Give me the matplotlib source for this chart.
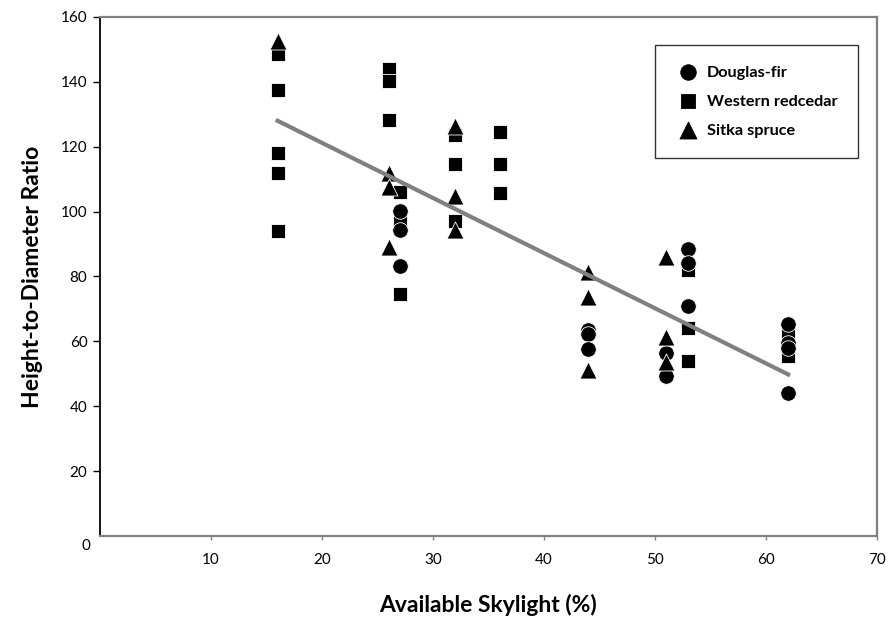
import matplotlib
matplotlib.use('Agg')
import matplotlib.pyplot as plt
import numpy as np

plt.rcParams['font.family'] = ['Lato', 'DejaVu Sans']

# Douglas-fir (circles)
df_x = [27, 27, 27, 44, 44, 44, 51, 51, 53, 53, 53, 62, 62, 62, 62]
df_y = [100.2, 94.3, 83.2, 63.5, 62.3, 57.6, 56.4, 49.3, 88.5, 84.2, 70.9, 65.5, 59.5, 58.0, 44.0]

# Western redcedar (squares)
wr_x = [16, 16, 16, 16, 16, 26, 26, 26, 27, 27, 27, 32, 32, 32, 36, 36, 36, 53, 53, 53, 62, 62]
wr_y = [148.5, 137.5, 118.1, 111.9, 94.0, 144.0, 140.3, 128.2, 106.0, 96.8, 74.6,
        123.6, 114.7, 97.1, 124.5, 114.7, 105.7, 82.0, 64.1, 53.9, 63.0, 55.5]

# Sitka spruce (triangles)
ss_x = [16, 26, 26, 26, 32, 32, 32, 44, 44, 44, 51, 51, 51]
ss_y = [152.5, 111.9, 107.6, 89.1, 126.4, 104.8, 94.3, 81.4, 73.7, 51.2, 86.0, 61.3, 53.6]

# pooled linear fit
fit_slope = -1.70
fit_intercept = 155.2

x_ticks = [10, 20, 30, 40, 50, 60, 70]
y_ticks = [20, 40, 60, 80, 100, 120, 140, 160]

fig = plt.figure(figsize=(8.96, 6.22), dpi=100)
ax = fig.add_axes([0.1116, 0.1383, 0.8672, 0.8344])

h_wr = ax.scatter(wr_x, wr_y, marker='s', s=95, c='black', edgecolors='white',
                  linewidths=0.6, zorder=3, label='Western redcedar')
h_df = ax.scatter(df_x, df_y, marker='o', s=125, c='black', edgecolors='white',
                  linewidths=0.6, zorder=4, label='Douglas-fir')
h_ss = ax.scatter(ss_x, ss_y, marker='^', s=150, c='black', edgecolors='white',
                  linewidths=0.6, zorder=5, label='Sitka spruce')

all_x = np.array(df_x + wr_x + ss_x)
xs = np.array([all_x.min(), all_x.max()])
ax.plot(xs, fit_intercept + fit_slope * xs, color='#808080', lw=3, zorder=6)

ax.set_xlim(0, 70)
ax.set_ylim(0, 160)
ax.set_xticks(x_ticks)
ax.set_yticks(y_ticks)
ax.tick_params(axis='y', direction='out', length=5, width=1, color='black',
               pad=4, labelsize=11)
ax.tick_params(axis='x', direction='out', length=3, width=1, color='#808080',
               pad=9, labelsize=11)
ax.text(-0.013, -0.02, '0', transform=ax.transAxes, ha='right', va='center', fontsize=11)

ax.spines['left'].set_color('black')
ax.spines['left'].set_linewidth(1.3)
for s in ['top', 'right', 'bottom']:
    ax.spines[s].set_color('#808080')
    ax.spines[s].set_linewidth(1.6)

ax.set_ylabel('Height-to-Diameter Ratio', fontsize=16.5, fontweight='bold', labelpad=13)
ax.set_xlabel('Available Skylight (%)', fontsize=16.5, fontweight='bold', labelpad=20)

leg = ax.legend(handles=[h_df, h_wr, h_ss], loc='upper left',
                bbox_to_anchor=(0.714, 0.946), frameon=True, fancybox=False,
                edgecolor='black', prop={'weight': 'bold', 'size': 11.7},
                labelspacing=0.9, borderpad=1.25, handletextpad=0.35,
                borderaxespad=0, scatterpoints=1, handlelength=1.6)
leg.get_frame().set_linewidth(1.0)
for h in leg.legend_handles:
    h.set_edgecolor('black')

fig.savefig('out.png', dpi=100)
plt.close(fig)
